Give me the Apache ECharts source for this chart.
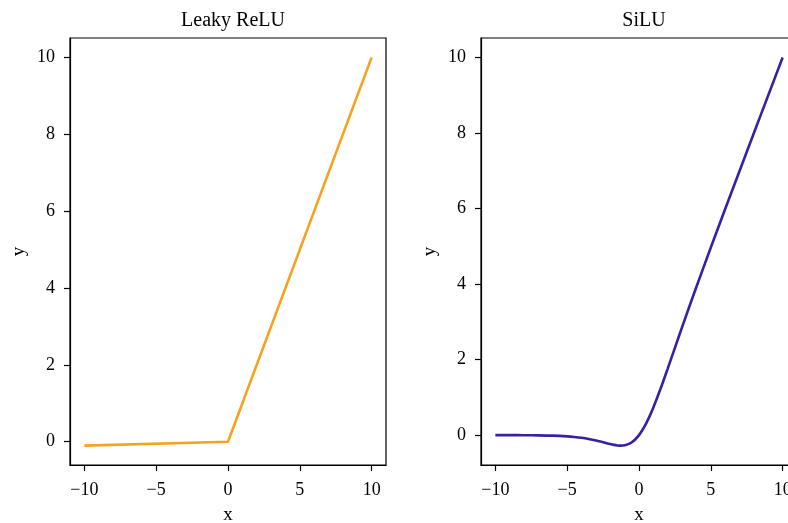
<!DOCTYPE html>
<html>
<head>
<meta charset="utf-8">
<script src="https://cdn.jsdelivr.net/npm/echarts@6/dist/echarts.min.js"></script>
<style>html,body{margin:0;padding:0;background:#fff;}#c{width:788px;height:523px;}</style>
</head>
<body>
<div id="c"></div>
<script>
const titles = ['Leaky ReLU', 'SiLU'];
const xTicks = [-10, -5, 0, 5, 10];
const yTicks = [0, 2, 4, 6, 8, 10];
const leakyX = [-10, 0, 10];
const leakyY = [-0.1, 0, 10];
const siluX = [-10, -9, -8, -7, -6, -5, -4.5, -4, -3.5, -3, -2.5, -2, -1.75, -1.5, -1.25, -1, -0.75, -0.5, -0.25, 0, 0.25, 0.5, 0.75, 1, 1.5, 2, 2.5, 3, 3.5, 4, 5, 6, 7, 8, 9, 10];
const siluY = [-0.0005, -0.0011, -0.0027, -0.0064, -0.0148, -0.0335, -0.0493, -0.0719, -0.1032, -0.1423, -0.1896, -0.2384, -0.259, -0.2736, -0.2784, -0.2689, -0.2406, -0.1888, -0.1094, 0, 0.1406, 0.3112, 0.5094, 0.7311, 1.2264, 1.7616, 2.3104, 2.8577, 3.3968, 3.9281, 4.9665, 5.9852, 6.9936, 7.9973, 8.9989, 9.9995];

const FONT = 'Liberation Serif';
const minus = v => String(v).replace('-', '\u2212');

function xAx(i) {
  return {
    type: 'value', gridIndex: i, min: -11, max: 11,
    name: 'x', nameLocation: 'middle', nameGap: 41,
    nameTextStyle: {fontFamily: FONT, fontSize: 19, color: '#000'},
    axisLine: {show: true, onZero: false, lineStyle: {color: '#000', width: 1.2}},
    splitLine: {show: false},
    axisTick: {show: true, length: 6, inside: false, customValues: xTicks, lineStyle: {color: '#000', width: 1.2}},
    axisLabel: {customValues: xTicks, formatter: minus, fontFamily: FONT, fontSize: 18, color: '#000', margin: 16}
  };
}
function yAx(i, mn, mx) {
  return {
    type: 'value', gridIndex: i, min: mn, max: mx,
    name: 'y', nameLocation: 'middle', nameGap: 41,
    nameTextStyle: {fontFamily: FONT, fontSize: 19, color: '#000'},
    axisLine: {show: true, onZero: false, lineStyle: {color: '#000', width: 1.2}},
    splitLine: {show: false},
    axisTick: {show: true, length: 6, inside: false, customValues: yTicks, lineStyle: {color: '#000', width: 1.2}},
    axisLabel: {customValues: yTicks, formatter: minus, fontFamily: FONT, fontSize: 18, color: '#000', margin: 15}
  };
}

const chart = echarts.init(document.getElementById('c'));
chart.setOption({
  animation: false,
  backgroundColor: '#fff',
  title: [
    {text: titles[0], left: 228, top: 6, textAlign: 'center', textStyle: {fontFamily: FONT, fontSize: 20, fontWeight: 'normal', color: '#000'}},
    {text: titles[1], left: 639, top: 6, textAlign: 'center', textStyle: {fontFamily: FONT, fontSize: 20, fontWeight: 'normal', color: '#000'}}
  ],
  grid: [
    {left: 70, top: 38, width: 316, height: 427, show: true, borderColor: '#000', borderWidth: 1.2, backgroundColor: 'transparent', outerBoundsMode: 'none'},
    {left: 481, top: 38, width: 316, height: 427, show: true, borderColor: '#000', borderWidth: 1.2, backgroundColor: 'transparent', outerBoundsMode: 'none'}
  ],
  xAxis: [xAx(0), xAx(1)],
  yAxis: [yAx(0, -0.605, 10.505), yAx(1, -0.792, 10.514)],
  series: [
    {type: 'line', xAxisIndex: 0, yAxisIndex: 0, data: leakyX.map((x, k) => [x, leakyY[k]]), showSymbol: false, lineStyle: {color: '#F5A31F', width: 2.6}},
    {type: 'line', xAxisIndex: 1, yAxisIndex: 1, data: siluX.map((x, k) => [x, siluY[k]]), showSymbol: false, smooth: 0.3, lineStyle: {color: '#3A1FA3', width: 2.6}}
  ]
});
</script>
</body>
</html>
